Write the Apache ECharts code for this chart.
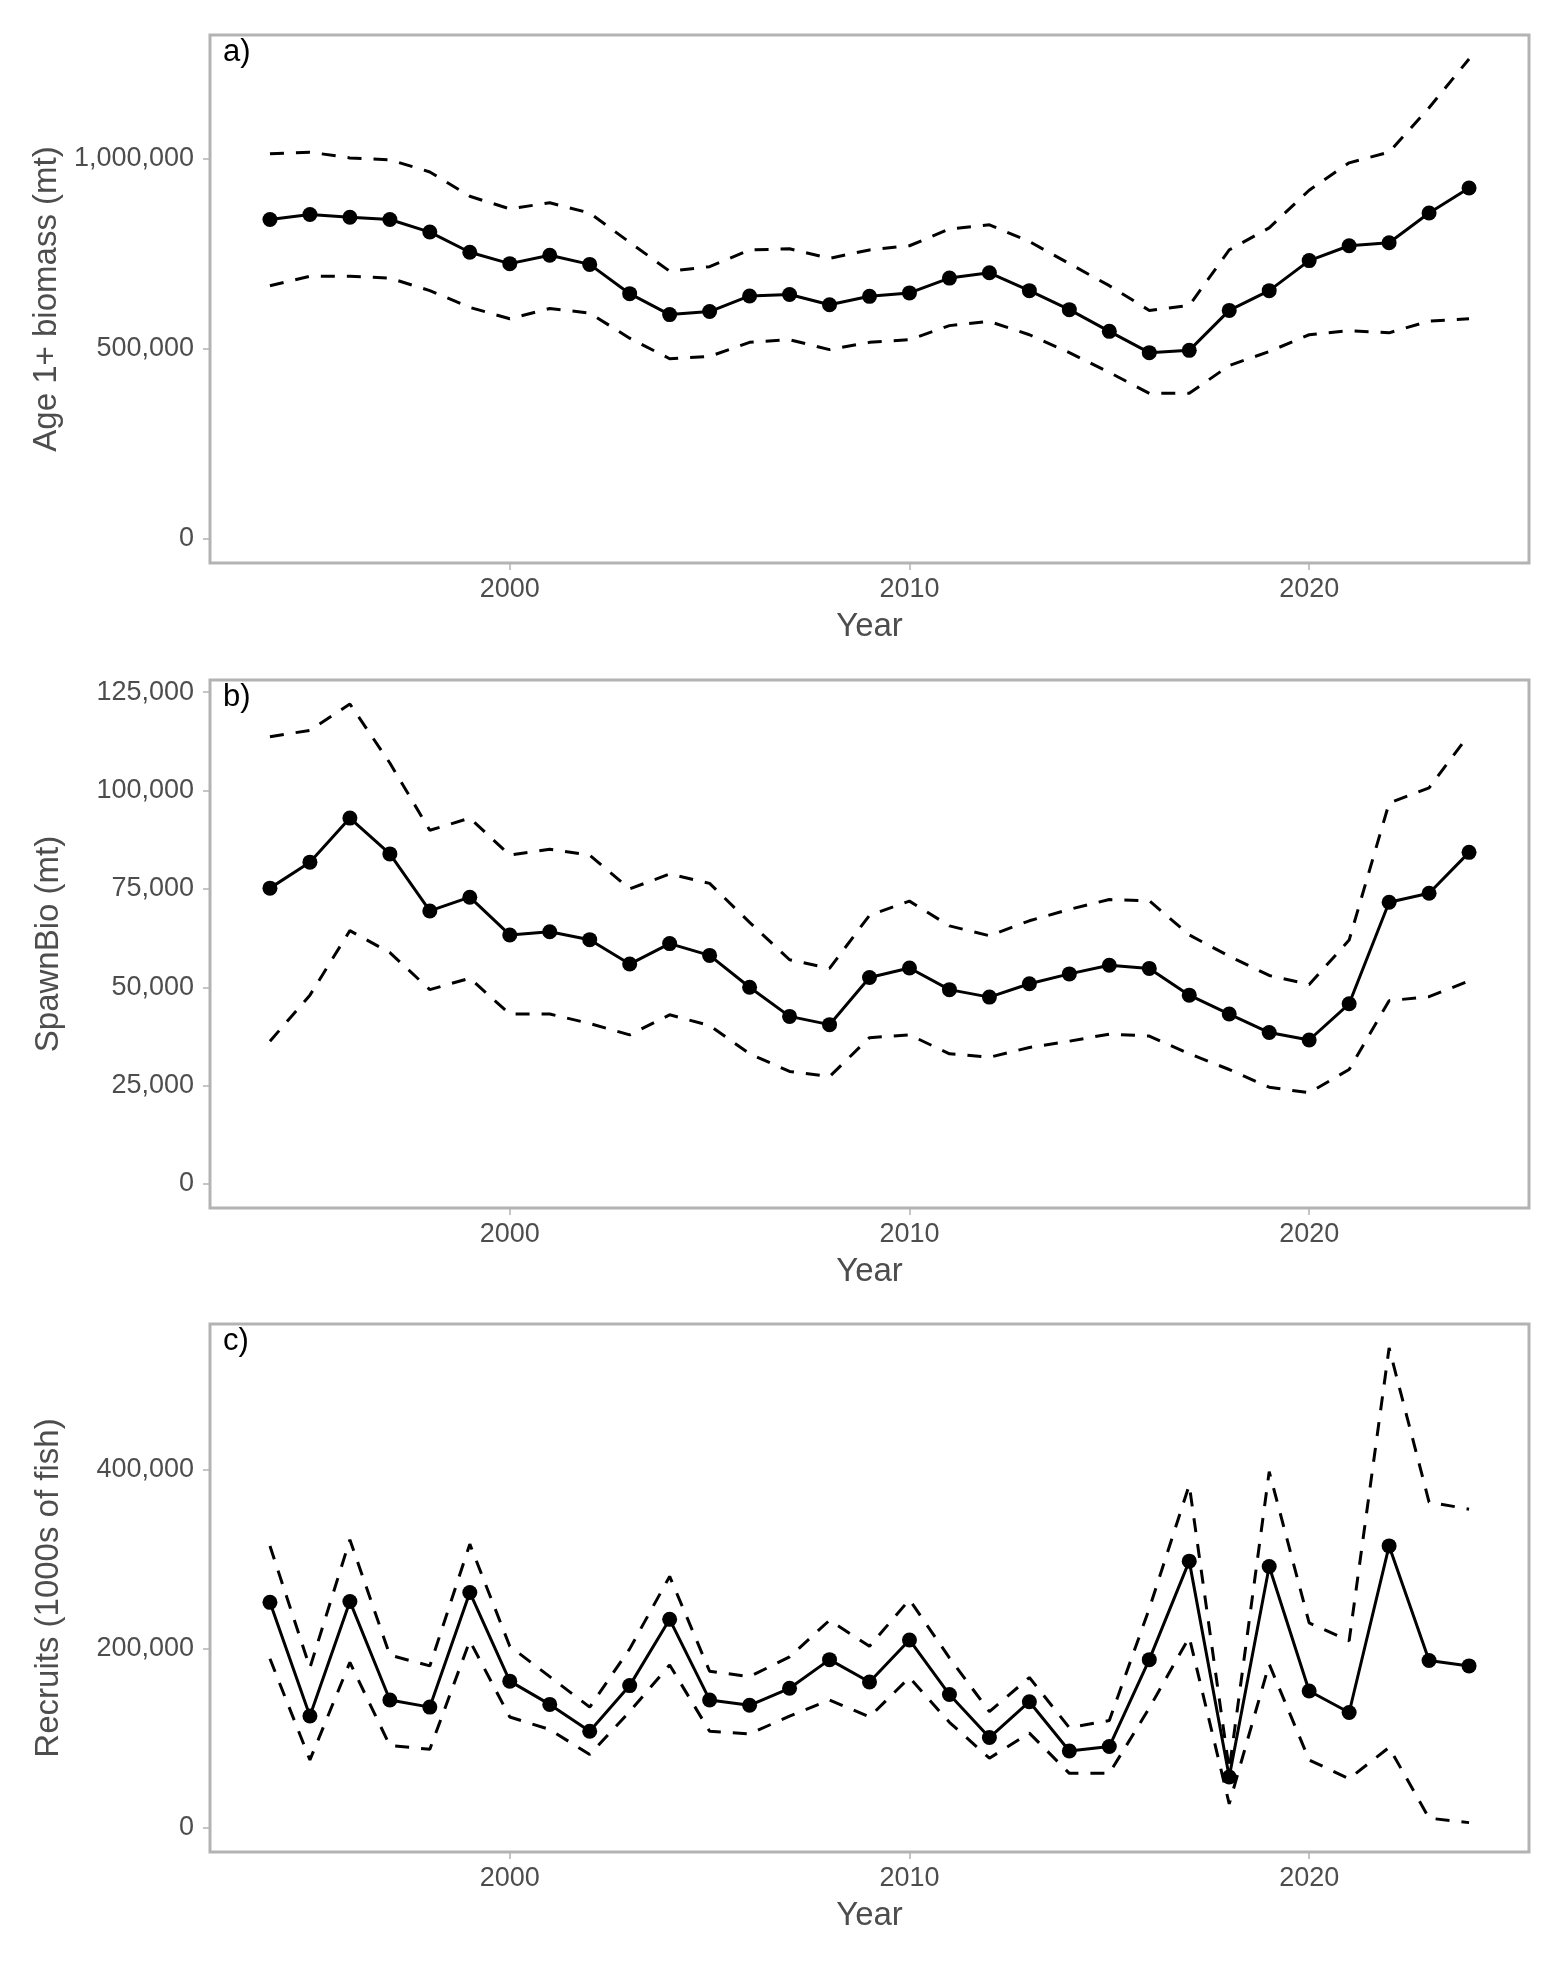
<!DOCTYPE html>
<html>
<head>
<meta charset="utf-8">
<script src="https://cdn.jsdelivr.net/npm/echarts@6/dist/echarts.min.js"></script>
<style>
  html, body { margin: 0; padding: 0; background: #fff; }
  #chart { width: 1562px; height: 1966px; }
</style>
</head>
<body>
<div id="chart"></div>
<script>
// years shared by the three panels
var years = [1994, 1995, 1996, 1997, 1998, 1999, 2000, 2001, 2002, 2003, 2004,
  2005, 2006, 2007, 2008, 2009, 2010, 2011, 2012, 2013, 2014, 2015, 2016, 2017,
  2018, 2019, 2020, 2021, 2022, 2023, 2024];
var yearTicks = [2000, 2010, 2020];

// a) age 1+ biomass (mt)
var bioEst = [840000, 853000, 846000, 840000, 807000, 754000, 724000, 746000, 722000, 645000, 590000,
  598000, 639000, 643000, 616000, 638000, 647000, 686000, 700000, 653000, 603000, 546000, 490000, 496000,
  601000, 653000, 732000, 771000, 779000, 857000, 923000];
var bioHi = [1013000, 1017000, 1002000, 997000, 965000, 901000, 868000, 884000, 857000, 780000, 704000,
  716000, 760000, 763000, 738000, 760000, 771000, 815000, 826000, 782000, 724000, 666000, 601000, 614000,
  760000, 818000, 917000, 989000, 1017000, 1134000, 1262000];
var bioLo = [666000, 691000, 691000, 686000, 653000, 609000, 579000, 606000, 594000, 528000, 474000,
  480000, 517000, 524000, 498000, 517000, 524000, 561000, 572000, 537000, 490000, 438000, 383000, 383000,
  456000, 493000, 537000, 548000, 542000, 573000, 579000];
var bioTicks = [0, 500000, 1000000];

// b) spawning biomass (mt)
var ssbEst = [75200, 81800, 93000, 83900, 69400, 72900, 63300, 64100, 62100, 55900, 61100,
  58100, 50000, 42600, 40500, 52500, 54900, 49400, 47500, 50900, 53400, 55600, 54800, 48000,
  43200, 38500, 36600, 45800, 71600, 73900, 84300];
var ssbHi = [113700, 115300, 122000, 107000, 89900, 93000, 83600, 85100, 83600, 75000, 78800,
  76400, 66500, 57000, 54800, 68300, 71900, 65600, 63100, 66900, 69800, 72300, 72000, 63300,
  57900, 53000, 50700, 62000, 96800, 100700, 114200];
var ssbLo = [36300, 48000, 64400, 58800, 49400, 52300, 43200, 43200, 40800, 37900, 43000,
  40300, 33100, 28600, 27300, 37200, 37900, 33100, 32200, 34700, 36300, 38100, 37600, 33100,
  29100, 24600, 23200, 29100, 46600, 47600, 51600];
var ssbTicks = [0, 25000, 50000, 75000, 100000, 125000];

// c) recruits (1000s of fish)
var recEst = [252000, 125000, 253000, 143000, 135000, 263000, 164000, 138000, 108000, 159000, 233000,
  143000, 137000, 156000, 188000, 163000, 210000, 149000, 101000, 141000, 86000, 91000, 188000, 298000,
  57000, 292000, 153000, 129000, 315000, 187000, 181000];
var recHi = [315000, 179000, 322000, 193000, 181000, 317000, 203000, 169000, 135000, 200000, 281000,
  175000, 169000, 191000, 232000, 203000, 255000, 190000, 130000, 168000, 112000, 120000, 245000, 383000,
  65000, 398000, 229000, 209000, 536000, 364000, 356000];
var recLo = [189000, 76000, 185000, 92000, 88000, 209000, 124000, 110000, 82000, 130000, 182000,
  108000, 105000, 125000, 143000, 124000, 168000, 118000, 78000, 106000, 61000, 61000, 134000, 213000,
  27000, 183000, 76000, 55000, 90000, 11000, 6000];
var recTicks = [0, 200000, 400000];

var panels = [
  { tag: 'a)', name: 'Age 1+ biomass (mt)', est: bioEst, hi: bioHi, lo: bioLo, ticks: bioTicks, top: 35 },
  { tag: 'b)', name: 'SpawnBio (mt)', est: ssbEst, hi: ssbHi, lo: ssbLo, ticks: ssbTicks, top: 680 },
  { tag: 'c)', name: 'Recruits (1000s of fish)', est: recEst, hi: recHi, lo: recLo, ticks: recTicks, top: 1324 }
];

var FONT = 'Liberation Sans, Arial, sans-serif';
var GREY = '#b3b3b3';
var TXT = '#4d4d4d';

function commas(v) {
  return String(v).replace(/\B(?=(\d{3})+(?!\d))/g, ',');
}
function pairs(vals) {
  return years.map(function (y, i) { return [y, vals[i]]; });
}

var option = {
  backgroundColor: '#fff',
  animation: false,
  textStyle: { fontFamily: FONT },
  title: [], grid: [], xAxis: [], yAxis: [], series: []
};

panels.forEach(function (p, k) {
  // ggplot style: range from 0 to the top of the band, padded 5%
  var hiMax = Math.max.apply(null, p.hi);
  var pad = hiMax * 0.05;

  option.title.push({
    text: p.tag, left: 223, top: p.top + 2, padding: 0,
    textStyle: { fontFamily: FONT, fontSize: 31, fontWeight: 'normal', color: '#000' }
  });
  option.grid.push({
    left: 210, right: 33, top: p.top, height: 528,
    show: true, borderColor: GREY, borderWidth: 3, backgroundColor: 'transparent'
  });
  option.xAxis.push({
    type: 'value', gridIndex: k, min: 1992.5, max: 2025.5,
    name: 'Year', nameLocation: 'middle', nameGap: 47,
    nameTextStyle: { fontFamily: FONT, fontSize: 33, color: TXT },
    axisLine: { show: false, onZero: false },
    splitLine: { show: false },
    axisTick: { show: true, length: 7, customValues: yearTicks, lineStyle: { color: GREY, width: 1.5 } },
    axisLabel: { customValues: yearTicks, margin: 13, fontFamily: FONT, fontSize: 27, color: TXT,
      formatter: function (v) { return String(v); } }
  });
  option.yAxis.push({
    type: 'value', gridIndex: k, min: -pad, max: hiMax + pad,
    name: p.name, nameLocation: 'middle', nameGap: 145,
    nameTextStyle: { fontFamily: FONT, fontSize: 33, color: TXT },
    axisLine: { show: false, onZero: false },
    splitLine: { show: false },
    axisTick: { show: true, length: 7, customValues: p.ticks, lineStyle: { color: GREY, width: 1.5 } },
    axisLabel: { customValues: p.ticks, margin: 16, fontFamily: FONT, fontSize: 27, color: TXT,
      formatter: commas }
  });

  [p.hi, p.lo].forEach(function (band) {
    option.series.push({
      type: 'line', xAxisIndex: k, yAxisIndex: k, data: pairs(band),
      showSymbol: false, symbol: 'none', silent: true,
      lineStyle: { color: '#000', width: 3, type: [14, 12] }
    });
  });
  option.series.push({
    type: 'line', xAxisIndex: k, yAxisIndex: k, data: pairs(p.est),
    symbol: 'circle', symbolSize: 15, showSymbol: true, silent: true,
    itemStyle: { color: '#000' },
    lineStyle: { color: '#000', width: 3 }
  });
});

var chart = echarts.init(document.getElementById('chart'));
chart.setOption(option);
</script>
</body>
</html>
